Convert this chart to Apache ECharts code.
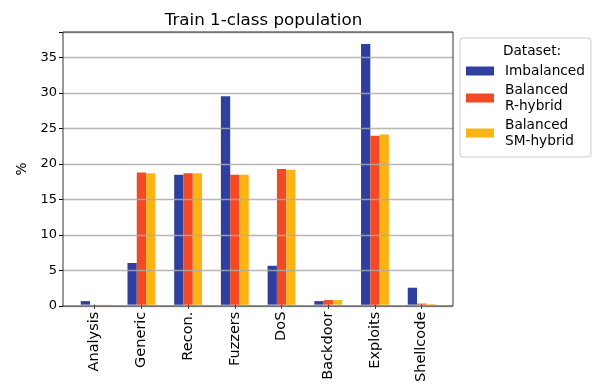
<!DOCTYPE html>
<html>
<head>
<meta charset="utf-8">
<script src="https://cdn.jsdelivr.net/npm/echarts@6/dist/echarts.min.js"></script>
<style>
  html, body { margin: 0; padding: 0; background: #fff; }
  #chart { width: 597px; height: 385px; }
</style>
</head>
<body>
<div id="chart"></div>
<script>
const categories = ['Analysis', 'Generic', 'Recon.', 'Fuzzers', 'DoS', 'Backdoor', 'Exploits', 'Shellcode'];
const imbalanced = [0.5, 5.9, 18.4, 29.5, 5.5, 0.5, 36.9, 2.4];
const rHybrid = [0.01, 18.7, 18.6, 18.4, 19.2, 0.65, 23.9, 0.15];
const smHybrid = [0.01, 18.6, 18.6, 18.4, 19.1, 0.65, 24.1, 0.1];
const yTicks = [0, 5, 10, 15, 20, 25, 30, 35];

const font = 'DejaVu Sans';
var dom = document.getElementById('chart');
var myChart = echarts.init(dom);

function bar(name, data, color) {
    return {
        name: name,
        type: 'bar',
        xAxisIndex: 1,
        yAxisIndex: 1,
        data: data,
        barWidth: 9.3,
        barGap: '0%',
        z: 1,
        itemStyle: { color: color }
    };
}

var option = {
    animation: false,
    textStyle: { fontFamily: font },
    title: [{
        text: 'Train 1-class population',
        left: 258.5,
        top: 7,
        textAlign: 'center',
        textStyle: { fontFamily: font, fontSize: 16.7, fontWeight: 'normal', color: '#000' }
    }, {
        text: 'Dataset:',
        left: 527,
        top: 39,
        textAlign: 'center',
        z: 10,
        textStyle: { fontFamily: font, fontSize: 13.7, fontWeight: 'normal', color: '#000' }
    }],
    legend: {
        orient: 'vertical',
        left: 460,
        top: 38,
        padding: [25, 6, 8, 6],
        itemWidth: 28,
        itemHeight: 9,
        itemGap: 3,
        icon: 'rect',
        borderColor: '#cccccc',
        borderWidth: 1,
        borderRadius: 3,
        textStyle: { fontFamily: font, fontSize: 13.7, color: '#000', lineHeight: 16, padding: [0, 0, 0, 6] },
        data: ['Imbalanced', 'Balanced\nR-hybrid', 'Balanced\nSM-hybrid']
    },
    grid: [
        { left: 63, right: 144, top: 32, bottom: 79, show: true, borderColor: '#333', borderWidth: 1, backgroundColor: 'transparent', z: 6 },
        { left: 71.35, right: 151.94, top: 32, bottom: 79 }
    ],
    xAxis: [{
        gridIndex: 0,
        type: 'value',
        min: 0,
        max: 1,
        show: false
    }, {
        gridIndex: 1,
        type: 'category',
        data: categories,
        axisLine: { show: false },
        axisTick: { show: true, alignWithLabel: true, length: 4, lineStyle: { color: '#000' } },
        axisLabel: { rotate: 90, margin: 7, fontFamily: font, fontSize: 14.5, color: '#000' }
    }],
    yAxis: [{
        gridIndex: 0,
        type: 'value',
        min: 0,
        max: 38.6,
        interval: 5,
        z: 5,
        name: '%',
        nameLocation: 'middle',
        nameRotate: 90,
        nameGap: 34,
        nameTextStyle: { fontFamily: font, fontSize: 13.7, color: '#000' },
        axisLine: { show: false },
        axisTick: { show: true, length: 4, lineStyle: { color: '#000' } },
        axisLabel: {
            margin: 6, fontFamily: font, fontSize: 13, color: '#000',
            formatter: function (v) { return yTicks.indexOf(v) >= 0 ? String(v) : ''; }
        },
        splitLine: { show: true, lineStyle: { color: 'rgba(170,170,170,0.85)', width: 1.3 } }
    }, {
        gridIndex: 1,
        type: 'value',
        min: 0,
        max: 38.6,
        show: false,
        splitLine: { show: false }
    }],
    series: [
        bar('Imbalanced', imbalanced, '#2e3f9d'),
        bar('Balanced\nR-hybrid', rHybrid, '#f24a24'),
        bar('Balanced\nSM-hybrid', smHybrid, '#fbb418')
    ]
};

myChart.setOption(option);
window.addEventListener('resize', myChart.resize);
</script>
</body>
</html>
